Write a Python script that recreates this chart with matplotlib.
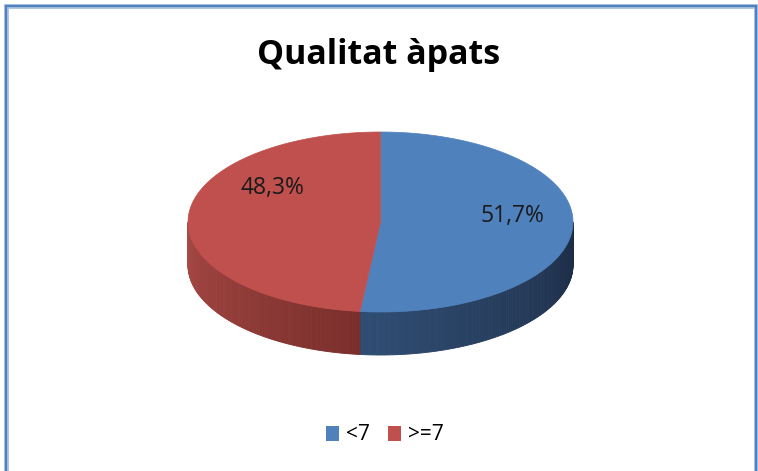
import numpy as np
import matplotlib.pyplot as plt
from matplotlib.patches import Polygon, Patch
from matplotlib.colors import to_rgb

labels = ['<7', '>=7']
values = [51.7, 48.3]
pct_text = ['51,7%', '48,3%']
top_colors = ['#4F81BD', '#C0504D']
# side shading: (colour at start angle, colour at end angle)
side_colors = [('#1C2B44', '#2F4D73'), ('#7A2E2B', '#A84945')]
title = 'Qualitat àpats'

W, H = 758, 471
fig = plt.figure(figsize=(W / 100, H / 100), dpi=100)
ax = fig.add_axes([0, 0, 1, 1])
ax.set_xlim(0, W)
ax.set_ylim(H, 0)
ax.axis('off')

# pie geometry in pixels
cx, cy, rx, ry, depth = 380.5, 222, 192.5, 90, 43


def pt(theta, dy=0):
    # theta in degrees, clockwise from 12 o'clock
    t = np.radians(theta)
    return cx + rx * np.sin(t), cy - ry * np.cos(t) + dy


fracs = np.array(values) / sum(values)
bounds = np.concatenate([[0], np.cumsum(fracs) * 360])

# sides (front half only: 90..270 deg)
for i in range(len(values)):
    a0, a1 = max(bounds[i], 90), min(bounds[i + 1], 270)
    if a1 <= a0:
        continue
    c0, c1 = np.array(to_rgb(side_colors[i][0])), np.array(to_rgb(side_colors[i][1]))
    th = np.linspace(a0, a1, 120)
    for k in range(len(th) - 1):
        f = k / (len(th) - 2)
        col = c0 + (c1 - c0) * f
        p = [pt(th[k]), pt(th[k + 1]), pt(th[k + 1], depth), pt(th[k], depth)]
        ax.add_patch(Polygon(p, closed=True, facecolor=col, edgecolor=col, lw=0.6))

# top faces
for i in range(len(values)):
    th = np.linspace(bounds[i], bounds[i + 1], 200)
    p = [(cx, cy)] + [pt(t) for t in th]
    ax.add_patch(Polygon(p, closed=True, facecolor=top_colors[i], edgecolor=top_colors[i], lw=0.5))

# data labels
label_xy = [(512, 216), (272, 188)]
for (x, y), s in zip(label_xy, pct_text):
    ax.text(x, y, s, ha='center', va='center', fontsize=16.5, family='Open Sans', color='#1a1a1a')

ax.text(379, 55, title, ha='center', va='center', fontsize=24.5, fontweight='bold',
        family='Open Sans', color='black')

handles = [Patch(facecolor=c, edgecolor='none') for c in top_colors]
leg = ax.legend(handles, labels, loc='center', bbox_to_anchor=(385 / W, 1 - 435 / H), ncol=2,
                frameon=False, handlelength=0.6, handleheight=0.7, handletextpad=0.35,
                columnspacing=0.9, prop={'family': 'Open Sans', 'size': 15})

# chart border (open at bottom)
ax.plot([5.5, 5.5, 755.5, 755.5], [H + 5, 6, 6, H + 5], color='#A9C3E4', lw=3.5, solid_joinstyle='miter')
ax.plot([5.5, 5.5, 755.5, 755.5], [H + 5, 6, 6, H + 5], color='#4F81BD', lw=1.6, solid_joinstyle='miter')

fig.savefig('out.png', dpi=100)
